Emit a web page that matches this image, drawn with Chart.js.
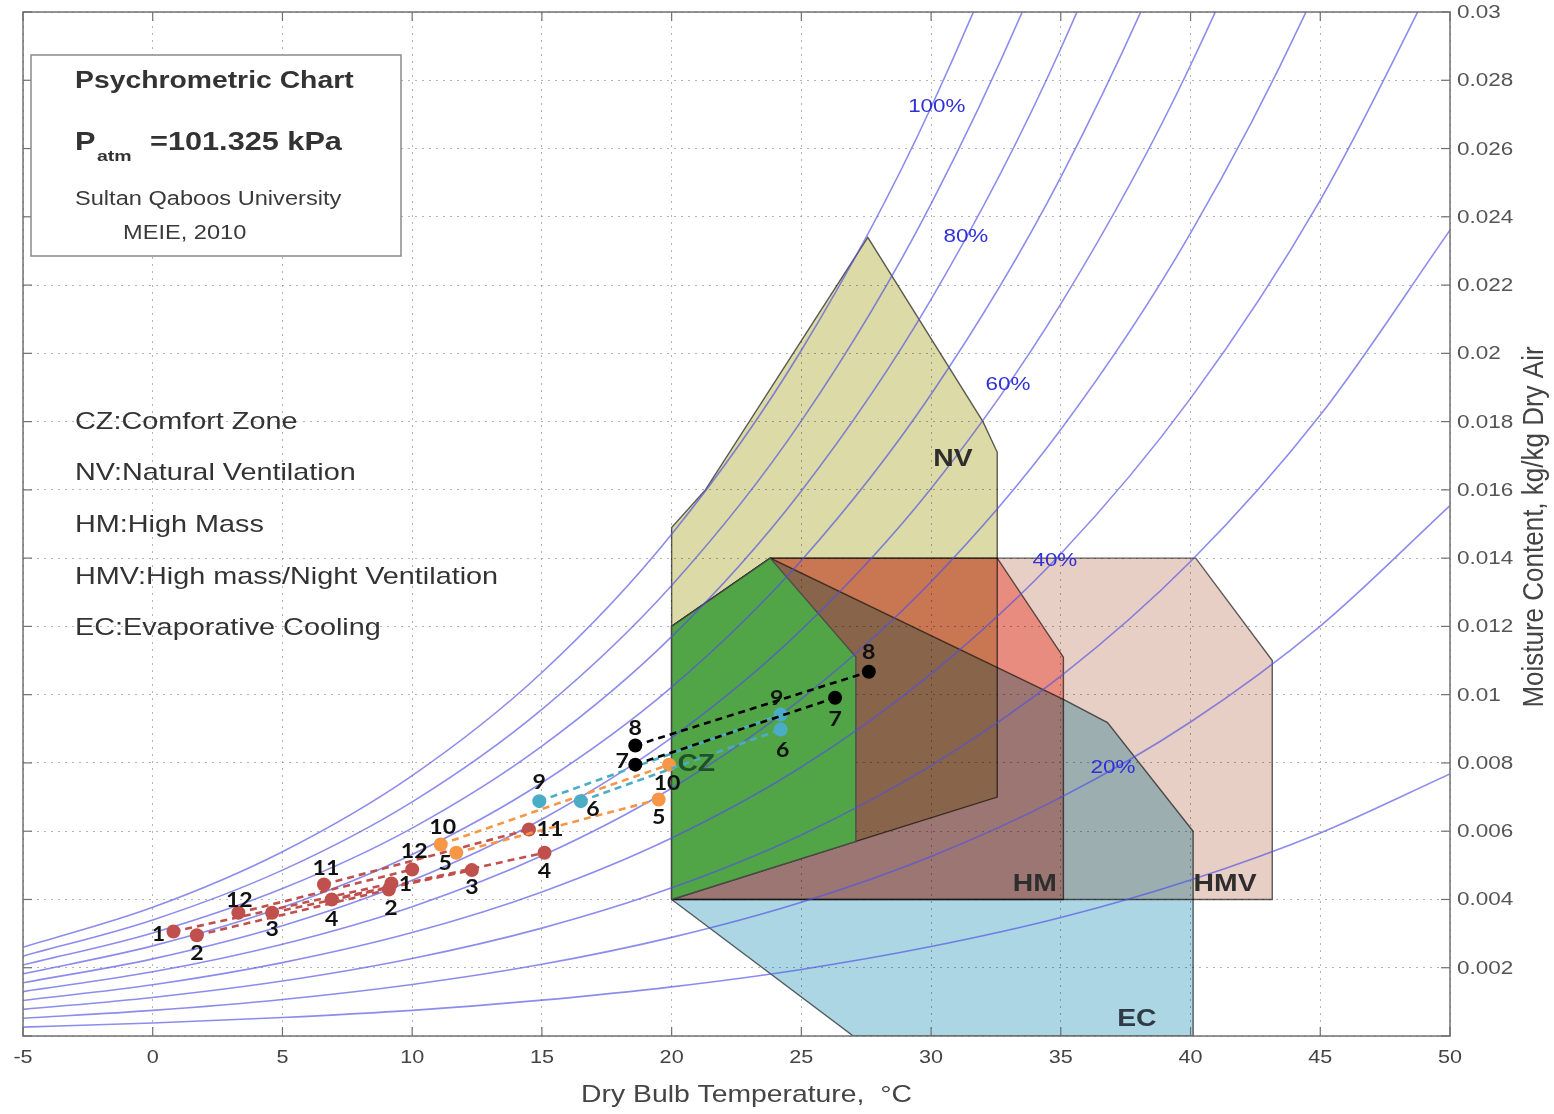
<!DOCTYPE html>
<html>
<head>
<meta charset="utf-8">
<title>Psychrometric Chart</title>
<script src="https://cdn.jsdelivr.net/npm/chart.js@4.4.1/dist/chart.umd.min.js"></script>
<style>
  html, body { margin: 0; padding: 0; background: #ffffff; }
  #wrap { width: 1554px; height: 1114px; position: relative; }
  canvas { display: block; }
</style>
</head>
<body>
<div id="wrap"><canvas id="psy" width="1554" height="1114" style="width:1554px;height:1114px"></canvas></div>
<script>
// ---------- axis ranges ----------
const tempMin = -5, tempMax = 50, tempStep = 5;
const moistMin = 0, moistMax = 0.03, moistStep = 0.002;

// ---------- relative-humidity curves: humidity ratio (kg/kg) at each dry-bulb temperature ----------
const curveTemps = [-5, 0, 5, 10, 15, 20, 25, 30, 35, 40, 45, 50];
const rh10  = [0.00026, 0.00038, 0.00054, 0.00075, 0.00105, 0.00144, 0.00195, 0.00262, 0.00347, 0.00457, 0.00595, 0.00768];
const rh20  = [0.00052, 0.00075, 0.00107, 0.00151, 0.00210, 0.00289, 0.00392, 0.00526, 0.00699, 0.00920, 0.01201, 0.01554];
const rh30  = [0.00078, 0.00113, 0.00161, 0.00227, 0.00316, 0.00434, 0.00589, 0.00792, 0.01054, 0.01390, 0.01819, 0.02361];
const rh40  = [0.00104, 0.00150, 0.00215, 0.00303, 0.00422, 0.00580, 0.00788, 0.01061, 0.01413, 0.01868, 0.02449, 0.03188];
const rh50  = [0.00130, 0.00188, 0.00269, 0.00379, 0.00528, 0.00726, 0.00988, 0.01331, 0.01777, 0.02352, 0.03091, 0.04037];
const rh60  = [0.00156, 0.00226, 0.00323, 0.00456, 0.00635, 0.00874, 0.01190, 0.01604, 0.02145, 0.02844, 0.03747, 0.04909];
const rh70  = [0.00182, 0.00264, 0.00377, 0.00532, 0.00742, 0.01022, 0.01393, 0.01880, 0.02516, 0.03344, 0.04415, 0.05803];
const rh80  = [0.00208, 0.00302, 0.00432, 0.00609, 0.00849, 0.01170, 0.01597, 0.02158, 0.02893, 0.03851, 0.05098, 0.06722];
const rh90  = [0.00234, 0.00340, 0.00486, 0.00686, 0.00957, 0.01320, 0.01802, 0.02438, 0.03273, 0.04366, 0.05795, 0.07665];
const rh100 = [0.00260, 0.00377, 0.00540, 0.00763, 0.01065, 0.01470, 0.02009, 0.02721, 0.03658, 0.04889, 0.06506, 0.08635];
const rhCurves = [rh10, rh20, rh30, rh40, rh50, rh60, rh70, rh80, rh90, rh100];

// ---------- bioclimatic zones (dry-bulb °C, humidity ratio kg/kg) ----------
const nvTemp  = [20.0, 20.0, 21.3, 27.56, 32.0, 32.55, 32.55, 27.1, 20.0];
const nvMoist = [0.0040, 0.0149, 0.0160, 0.0234, 0.0180, 0.0171, 0.0070, 0.0057, 0.0040];
const hmvTemp  = [20.0, 20.0, 23.8, 40.2, 43.15, 43.15, 20.0];
const hmvMoist = [0.0040, 0.0120, 0.0140, 0.0140, 0.0110, 0.0040, 0.0040];
const hmTemp  = [20.0, 20.0, 23.8, 32.55, 35.1, 35.1, 20.0];
const hmMoist = [0.0040, 0.0120, 0.0140, 0.0140, 0.0111, 0.0040, 0.0040];
const ecTemp  = [20.0, 20.0, 23.8, 35.1, 36.8, 40.1, 40.1, 27.0, 20.0];
const ecMoist = [0.0040, 0.0120, 0.0140, 0.00986, 0.00918, 0.0060, 0.0, 0.0, 0.0040];
const czTemp  = [20.0, 20.0, 23.8, 27.1, 27.1, 20.0];
const czMoist = [0.0040, 0.0120, 0.0140, 0.0111, 0.0057, 0.0040];

// ---------- monthly conditions: each month runs from a low to a high state ----------
const months    = [1, 2, 3, 4, 5, 6, 7, 8, 9, 10, 11, 12];
const tempLow   = [0.8, 1.7, 4.6, 6.9, 11.7, 16.5, 18.6, 18.6, 14.9, 11.1, 6.6, 3.3];
const moistLow  = [0.00306, 0.00295, 0.00361, 0.00400, 0.00537, 0.00688, 0.00795, 0.00851, 0.00688, 0.00561, 0.00444, 0.00361];
const tempHigh  = [9.2, 9.1, 12.3, 15.1, 19.5, 24.2, 26.3, 27.6, 24.2, 19.9, 14.5, 10.0];
const moistHigh = [0.00447, 0.00429, 0.00486, 0.00537, 0.00693, 0.00898, 0.00991, 0.01067, 0.00942, 0.00795, 0.00605, 0.00488];

// ---------- styling ----------
const FONT = "'Liberation Sans', Arial, Helvetica, sans-serif";
const NUMFONT = "Lato, 'Liberation Sans', Arial, sans-serif";
const SX = 1.18;   // horizontal text stretch used throughout the figure
const RED = '#c0504d', ORANGE = '#f79646', BLUE = '#4bacc6', BLACK = '#000000';
const monthColors = [RED, RED, RED, RED, ORANGE, BLUE, BLACK, BLACK, BLUE, ORANGE, RED, RED];
// label offsets in pixels [dxLow, dyLow, dxHigh, dyHigh]
const monthLabelOffsets = [
  [-15, 3, 14, 1], [0, 18, 2, 19], [0, 16, 0, 17], [0, 20, 0, 19],
  [-11, 11, 0, 18], [12, 8, 2, 21], [-13, -3, 0, 21], [0, -17, 0, -20],
  [0, -19, -4, -16], [2, -17, -2, 19], [2, -16, 21, 0], [1, -13, 2, -18]
];
const zoneTags = [
  { text: 'NV',  t: 30.84, w: 0.01688, color: '#2e2e2e' },
  { text: 'CZ',  t: 20.95, w: 0.00795, color: '#1f5228' },
  { text: 'HM',  t: 34.0,  w: 0.00444, color: '#2e2e2e' },
  { text: 'HMV', t: 41.33, w: 0.00444, color: '#2e2e2e' },
  { text: 'EC',  t: 37.93, w: 0.00049, color: '#2e3a44' }
];
const rhTags = [
  { text: '100%', t: 30.22, w: 0.02722 },
  { text: '80%',  t: 31.34, w: 0.02342 },
  { text: '60%',  t: 32.96, w: 0.01908 },
  { text: '40%',  t: 34.77, w: 0.01393 },
  { text: '20%',  t: 37.01, w: 0.00787 }
];
const zoneNotes = [
  'CZ:Comfort Zone',
  'NV:Natural Ventilation',
  'HM:High Mass',
  'HMV:High mass/Night Ventilation',
  'EC:Evaporative Cooling'
];

// ---------- datasets ----------
const pts = (xs, ys) => xs.map((x, i) => ({ x: x, y: ys[i] }));

function zone(label, xs, ys, fillColor, order, extra) {
  return Object.assign({
    type: 'line', label: label, data: pts(xs, ys),
    fill: 'shape', backgroundColor: fillColor,
    borderColor: 'rgba(70,70,70,0.85)', borderWidth: 1.4,
    pointRadius: 0, tension: 0, order: order
  }, extra || {});
}

const datasets = [];
datasets.push(zone('NV',  nvTemp,  nvMoist,  'rgb(220,218,166)', 10));
datasets.push(zone('HMV', hmvTemp, hmvMoist, 'rgb(232,207,197)', 9));
datasets.push(zone('HM',  hmTemp,  hmMoist,  'rgb(255,172,164)', 8));
datasets.push(zone('EC',  ecTemp,  ecMoist,  'rgb(172,214,228)', 7, { endBlend: true }));
datasets.push(zone('CZ',  czTemp,  czMoist,  'rgba(78,170,70,0.93)', 6));

rhCurves.forEach((vals, i) => {
  datasets.push({
    type: 'line', label: 'RH ' + ((i + 1) * 10) + '%',
    data: pts(curveTemps, vals),
    borderColor: 'rgba(80,80,228,0.66)', borderWidth: 1.6,
    pointRadius: 0, fill: false, cubicInterpolationMode: 'monotone', order: 5
  });
});

months.forEach((m, i) => {
  datasets.push({
    type: 'line', label: 'Month ' + m,
    data: [{ x: tempLow[i], y: moistLow[i] }, { x: tempHigh[i], y: moistHigh[i] }],
    borderColor: monthColors[i], borderWidth: 2.6, borderDash: [7, 5],
    pointRadius: 7, pointHoverRadius: 7, pointBackgroundColor: monthColors[i],
    pointBorderWidth: 0, fill: false, tension: 0, order: 0, monthIndex: i
  });
});

// ---------- helpers ----------
function drawText(ctx, s, x, y, o) {
  ctx.save();
  ctx.font = o.font;
  ctx.fillStyle = o.color || '#222';
  ctx.textAlign = o.align || 'left';
  ctx.textBaseline = o.base || 'middle';
  ctx.translate(x, y);
  if (o.rot) ctx.rotate(o.rot);
  ctx.scale(o.sx || 1, o.sy || 1);
  ctx.fillText(s, 0, 0);
  ctx.restore();
}
function seg(ctx, x1, y1, x2, y2) {
  ctx.beginPath(); ctx.moveTo(x1, y1); ctx.lineTo(x2, y2); ctx.stroke();
}

// overlapping zones are combined by multiplying their colours
const blendPlugin = {
  id: 'zoneBlend',
  beforeDraw(chart) {
    const c = chart.ctx;
    c.save(); c.fillStyle = '#ffffff'; c.fillRect(0, 0, chart.width, chart.height); c.restore();
  },
  beforeDatasetsDraw(chart) { chart.ctx.globalCompositeOperation = 'multiply'; },
  afterDatasetDraw(chart, args) {
    if (chart.data.datasets[args.index].endBlend) chart.ctx.globalCompositeOperation = 'source-over';
  },
  afterDatasetsDraw(chart) { chart.ctx.globalCompositeOperation = 'source-over'; }
};

const decorPlugin = {
  id: 'decor',
  afterDraw(chart) {
    const ctx = chart.ctx;
    const a = chart.chartArea;
    const xs = chart.scales.x, ys = chart.scales.y;

    // month numbers beside each state point
    chart.data.datasets.forEach((ds, di) => {
      if (ds.monthIndex === undefined) return;
      const meta = chart.getDatasetMeta(di);
      const off = monthLabelOffsets[ds.monthIndex];
      const txt = String(months[ds.monthIndex]);
      meta.data.forEach((el, k) => {
        drawText(ctx, txt, el.x + off[k * 2], el.y + off[k * 2 + 1],
          { font: 'bold 21px ' + NUMFONT, color: '#111', align: 'center', sx: 1.1 });
      });
    });

    // relative-humidity tags
    rhTags.forEach(r => {
      drawText(ctx, r.text, xs.getPixelForValue(r.t), ys.getPixelForValue(r.w),
        { font: '19px ' + FONT, color: 'rgb(48,48,215)', align: 'center', sx: SX });
    });

    // zone tags
    zoneTags.forEach(z => {
      drawText(ctx, z.text, xs.getPixelForValue(z.t), ys.getPixelForValue(z.w),
        { font: 'bold 24px ' + FONT, color: z.color, align: 'center', sx: SX });
    });

    // plot frame with inward ticks
    ctx.save();
    ctx.strokeStyle = '#707070';
    ctx.lineWidth = 1.5;
    ctx.strokeRect(a.left, a.top, a.right - a.left, a.bottom - a.top);
    ctx.lineWidth = 1.2;
    xs.ticks.forEach(t => {
      const px = xs.getPixelForValue(t.value);
      seg(ctx, px, a.bottom, px, a.bottom - 9);
      seg(ctx, px, a.top, px, a.top + 9);
    });
    ys.ticks.forEach(t => {
      const py = ys.getPixelForValue(t.value);
      seg(ctx, a.left, py, a.left + 9, py);
      seg(ctx, a.right, py, a.right - 9, py);
    });
    ctx.restore();

    // tick labels
    xs.ticks.forEach(t => {
      drawText(ctx, String(t.value), xs.getPixelForValue(t.value), a.bottom + 22,
        { font: '18px ' + FONT, color: '#444', align: 'center', sx: 1.2 });
    });
    ys.ticks.forEach(t => {
      if (t.value <= 0) return;
      const s = String(parseFloat(t.value.toFixed(3)));
      drawText(ctx, s, a.right + 7, ys.getPixelForValue(t.value) + 1,
        { font: '18px ' + FONT, color: '#555', align: 'left', sx: 1.25 });
    });

    // axis titles
    drawText(ctx, 'Dry Bulb Temperature,  \u00B0C', (a.left + a.right) / 2 + 10, a.bottom + 59,
      { font: '24px ' + FONT, color: '#444', align: 'center', sx: SX });
    drawText(ctx, 'Moisture Content, kg/kg Dry Air', a.right + 85, 527,
      { font: '26px ' + FONT, color: '#444', align: 'center', rot: -Math.PI / 2, sy: 1.1 });

    // title box
    ctx.save();
    ctx.fillStyle = '#ffffff';
    ctx.fillRect(31, 55, 370, 201);
    ctx.strokeStyle = '#8a8a8a';
    ctx.lineWidth = 1.5;
    ctx.strokeRect(31, 55, 370, 201);
    ctx.restore();
    drawText(ctx, 'Psychrometric Chart', 75, 81, { font: 'bold 24px ' + FONT, color: '#333', sx: SX });
    drawText(ctx, 'P', 75, 143, { font: 'bold 26px ' + FONT, color: '#333', sx: SX });
    drawText(ctx, 'atm', 97, 157, { font: 'bold 15px ' + FONT, color: '#333', sx: 1.3 });
    drawText(ctx, '=101.325 kPa', 150, 143, { font: 'bold 26px ' + FONT, color: '#333', sx: SX });
    drawText(ctx, 'Sultan Qaboos University', 75, 199, { font: '20px ' + FONT, color: '#3a3a3a', sx: SX });
    drawText(ctx, 'MEIE, 2010', 123, 233, { font: '20px ' + FONT, color: '#3a3a3a', sx: SX });

    // zone notes
    zoneNotes.forEach((s, i) => {
      drawText(ctx, s, 75, 422 + i * 51.7, { font: '24px ' + FONT, color: '#333', sx: 1.2 });
    });
  }
};

new Chart(document.getElementById('psy'), {
  type: 'line',
  data: { datasets: datasets },
  options: {
    responsive: false,
    devicePixelRatio: 1,
    animation: false,
    events: [],
    layout: { padding: { left: 23, top: 12, right: 0, bottom: 0 } },
    elements: { line: { capBezierPoints: false } },
    plugins: { legend: { display: false }, tooltip: { enabled: false } },
    scales: {
      x: {
        type: 'linear', min: tempMin, max: tempMax,
        ticks: { stepSize: tempStep, display: false },
        grid: { color: 'rgba(130,130,130,0.6)', lineWidth: 1, drawTicks: false },
        border: { display: false, dash: [2, 5] },
        afterFit: s => { s.height = 78; }
      },
      y: {
        type: 'linear', position: 'right', min: moistMin, max: moistMax,
        ticks: { stepSize: moistStep, display: false },
        grid: { color: 'rgba(130,130,130,0.6)', lineWidth: 1, drawTicks: false },
        border: { display: false, dash: [2, 5] },
        afterFit: s => { s.width = 104; }
      }
    }
  },
  plugins: [blendPlugin, decorPlugin]
});
</script>
</body>
</html>
